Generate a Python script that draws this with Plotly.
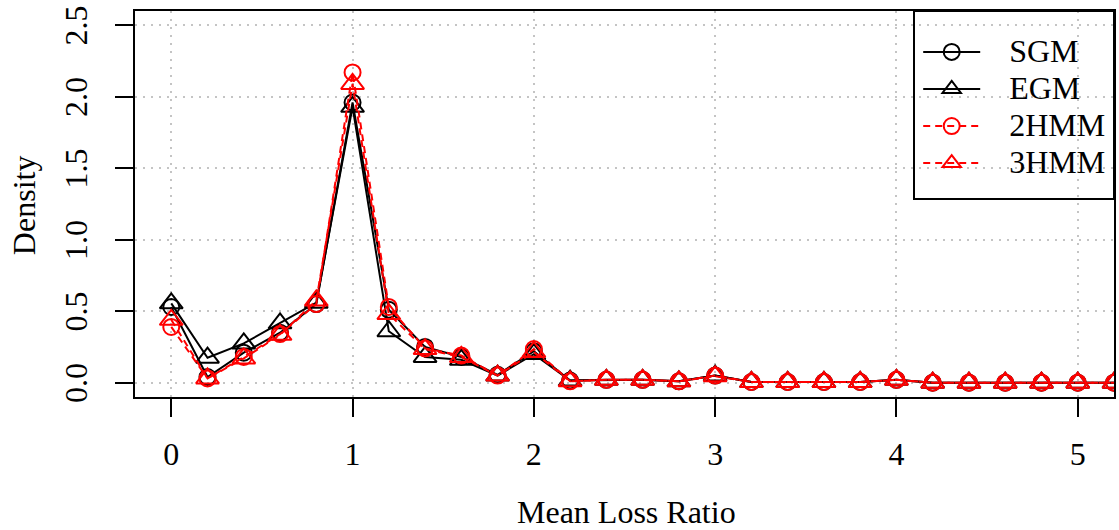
import plotly.graph_objects as go

x_vals = [0.0, 0.2, 0.4, 0.6, 0.8, 1.0, 1.2, 1.4, 1.6, 1.8, 2.0, 2.2, 2.4, 2.6,
          2.8, 3.0, 3.2, 3.4, 3.6, 3.8, 4.0, 4.2, 4.4, 4.6, 4.8, 5.0, 5.2]
sgm = [0.53, 0.04, 0.21, 0.35, 0.55, 1.96, 0.51, 0.25, 0.18, 0.055, 0.22, 0.015, 0.02, 0.02,
       0.01, 0.05, 0.005, 0.005, 0.005, 0.005, 0.02, 0.0, 0.0, 0.0, 0.0, 0.0, 0.0]
egm = [0.555, 0.175, 0.275, 0.415, 0.56, 1.93, 0.36, 0.18, 0.16, 0.05, 0.20, 0.015, 0.02, 0.02,
       0.01, 0.05, 0.005, 0.005, 0.005, 0.005, 0.02, 0.0, 0.0, 0.0, 0.0, 0.0, 0.0]
hmm2 = [0.39, 0.03, 0.18, 0.34, 0.55, 2.17, 0.53, 0.24, 0.19, 0.05, 0.235, 0.01, 0.02, 0.02,
        0.01, 0.05, 0.005, 0.005, 0.005, 0.005, 0.02, 0.0, 0.0, 0.0, 0.0, 0.0, 0.0]
hmm3 = [0.44, 0.03, 0.17, 0.335, 0.575, 2.09, 0.48, 0.235, 0.18, 0.05, 0.215, 0.01, 0.02, 0.02,
        0.01, 0.045, 0.005, 0.005, 0.005, 0.005, 0.02, 0.0, 0.0, 0.0, 0.0, 0.0, 0.0]
series_names = ["SGM", "EGM", "2HMM", "3HMM"]
x_ticks = [0, 1, 2, 3, 4, 5]
y_ticks = [0.0, 0.5, 1.0, 1.5, 2.0, 2.5]
y_tick_text = ["0.0", "0.5", "1.0", "1.5", "2.0", "2.5"]

FONT = "Liberation Serif"
specs = [
    (sgm, "black", "solid", "circle-open", 16),
    (egm, "black", "solid", "triangle-up-open", 20),
    (hmm2, "red", "7px,5px", "circle-open", 16),
    (hmm3, "red", "7px,5px", "triangle-up-open", 20),
]

fig = go.Figure()
for name, (ys, col, dash, sym, sz) in zip(series_names, specs):
    fig.add_trace(go.Scatter(
        x=x_vals, y=ys, mode="lines+markers",
        name='<span style="font-size:32px">\u00a0\u00a0\u00a0' + name + '</span>',
        line=dict(color=col, width=2, dash=dash),
        marker=dict(symbol=sym, size=sz, color=col, line=dict(color=col, width=2)),
        cliponaxis=True,
    ))

grid_common = dict(showgrid=True, gridcolor="#c4c4c4", griddash="2px,6px", gridwidth=1.5,
                   zeroline=False, showline=True, linecolor="black", linewidth=2, mirror=True,
                   ticks="outside", ticklen=18, tickwidth=2, tickcolor="black",
                   automargin=False, ticklabeloverflow="allow",
                   tickfont=dict(family=FONT, size=32, color="black"))

fig.update_layout(
    width=1119, height=530,
    margin=dict(l=135, r=5, t=11, b=133),
    paper_bgcolor="white", plot_bgcolor="white",
    font=dict(family=FONT, color="black"),
    showlegend=True,
    legend=dict(
        x=0.800, y=0.955, xanchor="left", yanchor="top",
        bgcolor="rgba(0,0,0,0)", borderwidth=0,
        font=dict(family=FONT, size=26.2, color="black"),
        itemwidth=57, tracegroupgap=0,
    ),
    xaxis=dict(
        range=[-0.2, 5.2], tickvals=x_ticks, ticktext=[str(v) for v in x_ticks],
        ticklabelstandoff=10, **grid_common,
    ),
    yaxis=dict(
        range=[-0.1, 2.6], tickvals=y_ticks, ticktext=y_tick_text,
        tickangle=-90, ticklabelstandoff=15, ticklabelshift=5, **grid_common,
    ),
    shapes=[dict(type="rect", xref="paper", yref="paper",
                 x0=(914 - 135) / 979, x1=1.0, y0=(397 - 199) / 386, y1=1.0,
                 line=dict(color="black", width=2), fillcolor="rgba(0,0,0,0)", layer="above")],
    annotations=[
        dict(text="Mean Loss Ratio", xref="paper", yref="paper", x=0.502, y=-0.298,
             xanchor="center", yanchor="middle", showarrow=False,
             font=dict(family=FONT, size=32, color="black")),
        dict(text="Density", xref="paper", yref="paper", x=-0.1134, y=0.497,
             xanchor="center", yanchor="middle", showarrow=False, textangle=-90,
             font=dict(family=FONT, size=32, color="black")),
    ],
)

fig.write_html("out.html")
